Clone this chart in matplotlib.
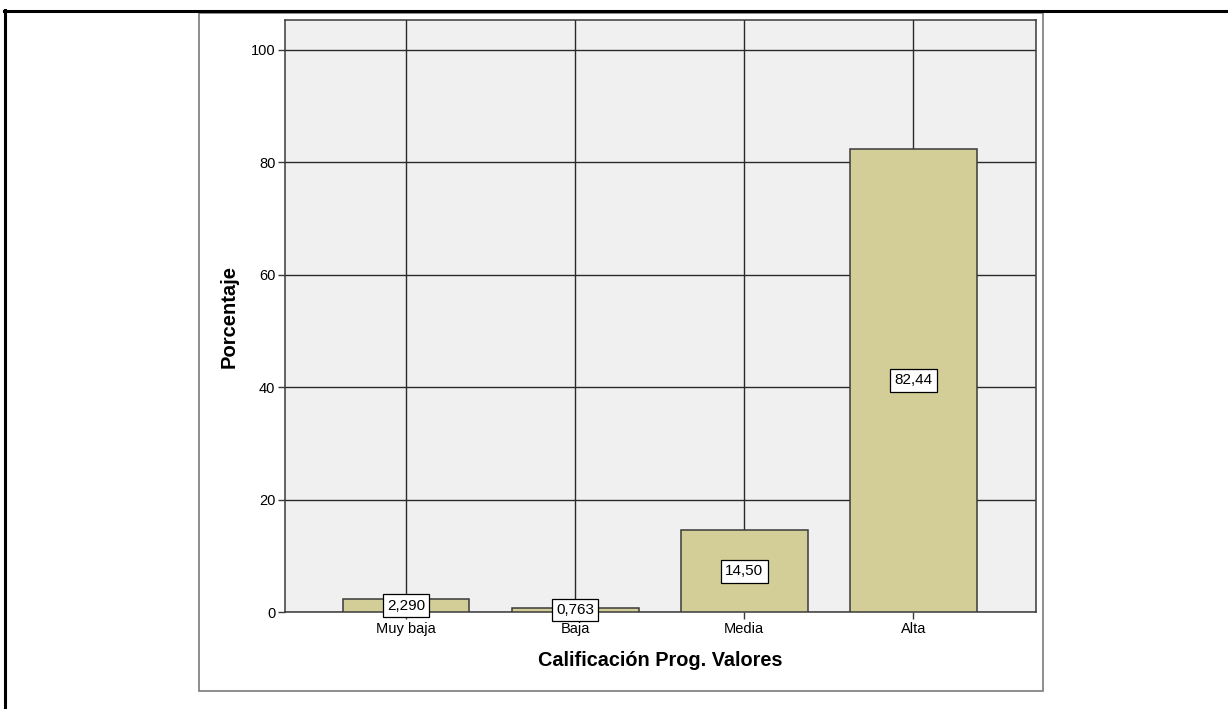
import matplotlib
matplotlib.use("Agg")
import matplotlib.pyplot as plt
from matplotlib.patches import Rectangle
from matplotlib.lines import Line2D

plt.rcParams["font.family"] = ["Liberation Sans", "DejaVu Sans"]

categories = ["Muy baja", "Baja", "Media", "Alta"]
porcentajes = [2.290, 0.763, 14.50, 82.44]
etiquetas = ["2,290", "0,763", "14,50", "82,44"]
yticks = [0, 20, 40, 60, 80, 100]

W, H = 1228, 709
fig = plt.figure(figsize=(W / 100, H / 100), dpi=100)

# outer page border (top + left)
fig.add_artist(Line2D([4 / W, 1], [1 - 11 / H, 1 - 11 / H], color="black", lw=2.2,
                      transform=fig.transFigure))
fig.add_artist(Line2D([5 / W, 5 / W], [1 - 10 / H, 0], color="black", lw=2.2,
                      transform=fig.transFigure))
# chart frame
fig.add_artist(Rectangle((199 / W, 1 - 691 / H), (1043 - 199) / W, (691 - 13) / H,
                         fill=False, edgecolor="#7a7a7a", lw=1.2, transform=fig.transFigure))

ax = fig.add_axes([285 / W, 1 - 612 / H, (1036 - 285) / W, (612 - 20) / H])
ax.set_facecolor("#f0f0f0")

x = list(range(len(categories)))
ax.bar(x, porcentajes, width=0.75, color="#d3ce97", edgecolor="#3a3a3a", lw=1.1, zorder=3)

for xi, v, t in zip(x, porcentajes, etiquetas):
    ax.text(xi, v / 2, t, ha="center", va="center", fontsize=11, zorder=5,
            bbox=dict(boxstyle="square,pad=0.28", fc="white", ec="black", lw=0.9))

ax.set_xlim(-0.716, 3.725)
ax.set_ylim(0, 105.3)
ax.set_xticks(x)
ax.set_xticklabels(categories, fontsize=10.5)
ax.set_yticks(yticks)
ax.set_yticklabels([str(v) for v in yticks], fontsize=10.5)
ax.tick_params(axis="both", direction="out", length=5, width=1, color="#3a3a3a", pad=2)
ax.grid(True, color="#2a2a2a", lw=1.0, zorder=0)
ax.set_axisbelow(True)
for s in ax.spines.values():
    s.set_color("#3a3a3a")
    s.set_linewidth(1.1)

ax.set_ylabel("Porcentaje", fontsize=14.5, fontweight="bold", labelpad=9)
ax.set_xlabel("Calificación Prog. Valores", fontsize=14.3, fontweight="bold", labelpad=11)

fig.savefig("out.png", dpi=100)
